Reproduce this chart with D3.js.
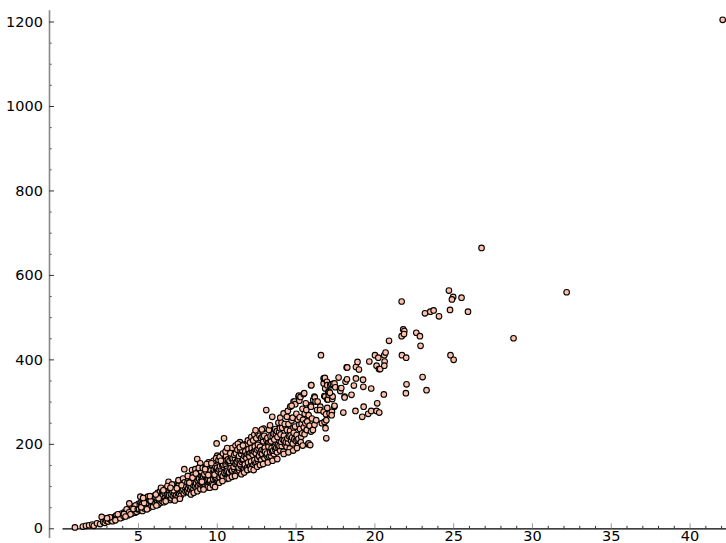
<!DOCTYPE html>
<html>
<head>
<meta charset="utf-8">
<script src="https://cdn.jsdelivr.net/npm/d3@7"></script>
<style>
  body { margin: 0; background: #fff; }
  svg { display: block; }
</style>
</head>
<body>
<div class="chart"></div>
<script>
// points, grouped by x range: [x, y]
var lowBand = [
  [1.0,2],[1.5,4],[1.7,6],[1.9,7],[2.1,9],[2.2,6],[2.4,12],[2.6,10],[2.7,27],[2.8,15],[2.9,13],[3.0,18],[3.1,16],[3.2,22],[3.3,19],
  [3.33,24],[3.41,20],[3.52,27],[3.47,22],[3.61,30],[3.68,25],[3.79,28],[3.83,33],[3.92,31],[4.02,26],[3.97,35],[3.38,17],[3.57,19],[3.88,24],[4.08,30],[4.13,38],[3.22,26],[3.72,33],[3.04,24],
  [4.18,33],[4.23,40],[4.31,36],[4.37,31],[4.42,44],[4.49,38],[4.53,48],[4.61,35],[4.57,42],[4.68,40],[4.73,52],[4.81,37],[4.77,46],[4.89,43],[4.93,55],[5.01,41],[4.97,49],[5.03,58],[4.28,45],[4.63,50],[4.84,54],[4.44,38],[4.11,34],[4.91,39],[4.52,33],[4.71,46],[4.99,45],[4.21,28],[4.45,59]
];

var band5to8 = [
  [5.07,46],[5.12,55],[5.18,61],[5.15,75],[5.23,44],[5.26,58],[5.31,67],[5.34,51],[5.37,63],[5.29,41],[5.43,55],[5.46,69],[5.41,47],[5.52,59],[5.55,65],[5.58,71],[5.49,50],[5.62,53],[5.66,62],[5.63,75],[5.71,57],[5.74,68],[5.69,48],[5.83,61],[5.79,71],[5.86,53],[5.91,64],[5.94,58],[5.88,73],[6.02,55],[6.05,67],[5.98,61],[6.08,78],[5.21,50],[5.39,60],[5.57,45],[5.81,65],[5.96,51],[5.33,72],[5.76,76],
  [6.11,59],[6.14,69],[6.09,74],[6.22,63],[6.19,72],[6.25,84],[6.28,56],[6.33,67],[6.36,79],[6.42,71],[6.39,87],[6.44,61],[6.51,65],[6.48,75],[6.55,82],[6.53,91],[6.62,69],[6.58,79],[6.64,62],[6.71,73],[6.68,84],[6.74,94],[6.79,67],[6.83,77],[6.81,88],[6.92,71],[6.88,81],[6.95,93],[7.02,75],[6.98,85],[6.94,110],[7.05,67],[6.17,54],[6.46,96],[6.61,90],[6.87,100],[6.31,71],[6.76,64],[6.97,79],[6.13,80],
  [7.12,71],[7.09,81],[7.14,91],[7.21,77],[7.18,87],[7.24,97],[7.33,73],[7.29,83],[7.36,93],[7.41,79],[7.44,89],[7.38,103],[7.52,74],[7.49,86],[7.56,97],[7.53,107],[7.61,81],[7.64,91],[7.58,101],[7.72,85],[7.68,95],[7.74,111],[7.71,77],[7.82,88],[7.79,99],[7.85,105],[7.91,83],[7.88,93],[7.94,140],[8.02,87],[7.98,97],[8.04,104],[8.01,113],[7.16,104],[7.34,66],[7.57,114],[7.66,70],[7.86,118],[7.26,90],[7.47,95],[7.96,109],[7.06,96],[7.77,102]
];

var band8to11 = [
  [8.12,89],[8.08,99],[8.14,109],[8.22,85],[8.19,95],[8.24,104],[8.21,117],[8.32,91],[8.28,101],[8.35,112],[8.31,123],[8.42,86],[8.39,97],[8.44,107],[8.43,138],[8.52,93],[8.48,104],[8.55,115],[8.51,127],[8.62,99],[8.58,110],[8.65,121],[8.64,140],[8.72,95],[8.69,107],[8.74,118],[8.76,164],[8.82,101],[8.79,113],[8.85,125],[8.81,133],[8.92,105],[8.88,117],[8.94,128],[8.95,154],[9.02,99],[8.98,111],[9.04,122],[9.01,135],[8.16,124],[8.36,80],[8.54,84],[8.77,88],[8.96,93],[8.46,120],[8.67,130],[8.26,108],[8.86,143],
  [9.12,99],[9.08,118],[9.14,122],[9.11,143],[9.22,101],[9.19,106],[9.24,125],[9.21,128],[9.32,109],[9.28,113],[9.35,133],[9.31,146],[9.42,97],[9.38,115],[9.44,120],[9.41,141],[9.52,111],[9.48,116],[9.55,137],[9.51,139],[9.47,156],[9.62,108],[9.58,114],[9.65,131],[9.61,137],[9.72,107],[9.68,125],[9.74,131],[9.71,149],[9.82,111],[9.78,116],[9.85,134],[9.81,139],[9.79,160],[9.92,117],[9.88,123],[9.94,141],[9.91,147],[10.02,115],[9.98,120],[10.04,137],[10.01,143],[9.99,201],[10.03,172],[9.16,92],[9.36,152],[9.56,96],[9.76,102],[9.96,166],[9.46,126],[9.66,154],[9.86,127],[9.26,140],[9.06,110],[9.89,98],
  [10.12,115],[10.08,135],[10.14,139],[10.11,162],[10.22,117],[10.18,121],[10.25,141],[10.21,147],[10.19,169],[10.32,124],[10.28,129],[10.35,149],[10.31,157],[10.42,121],[10.38,124],[10.44,145],[10.41,151],[10.39,177],[10.52,129],[10.48,132],[10.55,153],[10.51,159],[10.46,213],[10.62,117],[10.58,135],[10.65,141],[10.61,162],[10.59,171],[10.72,133],[10.68,136],[10.75,157],[10.71,163],[10.69,185],[10.82,129],[10.78,133],[10.85,155],[10.81,160],[10.92,137],[10.88,142],[10.95,165],[10.91,172],[11.02,133],[10.98,137],[11.04,159],[11.01,166],[10.97,190],[10.16,108],[10.36,112],[10.56,182],[10.76,118],[10.96,122],[10.26,160],[10.66,190],[10.86,178]
];

var band11to14 = [
  [11.12,139],[11.07,146],[11.15,166],[11.11,174],[11.23,131],[11.18,152],[11.26,153],[11.21,178],[11.19,196],[11.33,134],[11.28,158],[11.36,163],[11.31,186],[11.43,137],[11.39,144],[11.45,165],[11.41,171],[11.52,148],[11.48,152],[11.55,176],[11.51,184],[11.47,204],[11.63,132],[11.58,157],[11.65,161],[11.61,185],[11.72,142],[11.68,164],[11.75,171],[11.71,198],[11.82,146],[11.78,151],[11.85,173],[11.81,182],[11.92,144],[11.88,166],[11.95,176],[11.91,200],[12.03,150],[11.98,156],[12.05,177],[12.01,187],[11.97,208],[11.16,124],[11.34,200],[11.56,128],[11.74,132],[11.94,138],[11.46,192],[11.66,196],
  [12.12,147],[12.07,170],[12.15,179],[12.11,203],[12.23,151],[12.18,158],[12.26,181],[12.21,190],[12.19,216],[12.33,150],[12.28,174],[12.36,182],[12.31,208],[12.43,155],[12.39,162],[12.45,186],[12.41,194],[12.38,222],[12.52,156],[12.48,178],[12.55,186],[12.51,213],[12.63,159],[12.58,165],[12.65,189],[12.61,198],[12.59,226],[12.72,168],[12.68,172],[12.75,193],[12.71,219],[12.82,162],[12.78,179],[12.85,185],[12.81,214],[12.92,171],[12.88,176],[12.95,206],[12.91,217],[13.03,166],[12.98,184],[13.05,191],[13.01,219],[12.97,236],[12.16,140],[12.34,138],[12.56,146],[12.74,150],[12.94,152],[12.46,232],[12.86,234],
  [13.12,174],[13.07,181],[13.15,209],[13.14,280],[13.23,168],[13.18,177],[13.26,202],[13.21,214],[13.33,170],[13.28,194],[13.36,204],[13.31,233],[13.43,172],[13.39,180],[13.45,206],[13.41,218],[13.38,244],[13.52,182],[13.48,190],[13.55,217],[13.52,264],[13.63,176],[13.58,184],[13.65,210],[13.61,224],[13.72,186],[13.68,193],[13.75,224],[13.71,235],[13.82,180],[13.78,191],[13.85,216],[13.81,230],[13.92,190],[13.88,197],[13.95,228],[13.91,250],[14.02,184],[13.98,195],[14.05,222],[14.01,237],[13.24,156],[13.54,160],[13.84,164],[14.03,262]
];

var band14to17 = [
  [14.12,195],[14.07,205],[14.15,238],[14.11,250],[14.23,181],[14.18,210],[14.26,219],[14.24,272],[14.33,199],[14.28,208],[14.36,242],[14.31,247],[14.43,193],[14.38,204],[14.45,233],[14.45,264],[14.52,203],[14.48,213],[14.55,247],[14.51,278],[14.63,189],[14.58,218],[14.65,231],[14.66,288],[14.72,207],[14.68,220],[14.75,255],[14.82,201],[14.78,215],[14.81,262],[14.87,238],[14.87,300],[14.92,211],[14.88,226],[14.94,300],[14.98,294],[15.02,207],[14.97,241],[15.05,271],[14.25,176],[14.55,180],[14.85,184],[14.75,290],
  [15.12,209],[15.07,221],[15.14,257],[15.19,312],[15.21,314],[15.24,302],[15.18,212],[15.23,245],[15.26,263],[15.33,204],[15.28,235],[15.31,311],[15.36,217],[15.42,225],[15.38,247],[15.44,283],[15.52,239],[15.48,257],[15.51,318],[15.55,320],[15.57,223],[15.62,249],[15.58,271],[15.68,280],[15.71,233],[15.74,253],[15.79,199],[15.83,201],[15.83,268],[15.89,243],[15.93,197],[15.93,291],[15.98,229],[15.98,288],[16.04,260],[15.09,190],[15.45,196],[15.65,296],
  [16.1,233],[16.12,304],[16.19,312],[16.2,245],[16.22,310],[16.27,300],[16.31,256],[16.36,280],[16.4,300],[16.57,288],[16.55,280],[16.67,249],[16.78,276],[16.82,313],[16.84,252],[16.88,312],[16.9,237],[16.93,270],[16.95,256],[16.95,213],[17.01,305],[17.01,285],[17.06,305],[17.1,316],[17.16,272],[17.31,313],[17.31,276],[17.29,268],[17.33,306],[17.35,312],[17.46,288],[17.47,290]
];

var upperBand = [
  [15.98,339],[16.0,339],[16.61,410],[16.78,343],[16.78,355],[16.84,355],[16.86,356],[16.88,331],[16.99,347],[17.01,339],[17.08,323],[17.12,323],[17.18,321],[17.2,339],[17.27,341],[17.37,342],[17.47,343],[17.52,334],
  [17.73,357],[17.82,331],[17.84,325],[17.9,332],[18.03,274],[18.11,312],[18.11,310],[18.17,347],[18.24,381],[18.26,353],[18.28,381],[18.55,316],[18.7,338],[18.8,278],[18.83,355],[18.83,382],[18.93,394],[19.02,376],[19.23,264],[19.28,352],[19.3,335],[19.32,288],[19.61,271],[19.68,395],[19.8,331],[19.8,278],
  [20.04,410],[20.14,385],[20.14,278],[20.18,296],[20.25,404],[20.29,377],[20.31,274],[20.37,377],[20.6,317],[20.63,410],[20.65,395],[20.63,385],[20.71,416],[20.93,444]
];

var tailPoints = [
  [21.73,537],[21.73,455],[21.83,471],[21.9,467],[21.88,460],[22.66,463],[22.89,455],[22.93,432],[21.75,410],[22.02,404],[22.04,341],[22.0,320],[23.06,358],[23.31,327],
  [23.21,509],[23.55,513],[23.76,516],[24.1,502],[24.73,563],[25.0,548],[24.92,542],[25.53,546],[24.8,517],[25.94,513],[24.83,410],[25.03,399],
  [26.8,664],[28.83,450],[32.2,559],[42.1,1204]
];

var xMajorTicks = [5, 10, 15, 20, 25, 30, 35, 40];
var yMajorTicks = [0, 200, 400, 600, 800, 1000, 1200];

var points = lowBand.concat(band5to8, band8to11, band11to14, band14to17, upperBand, tailPoints);

var svgWidth = 726;
var svgHeight = 543;

var svg = d3.select(".chart")
  .append("svg")
  .attr("width", svgWidth)
  .attr("height", svgHeight);

// padded data range, like the original plot
var xScale = d3.scaleLinear()
  .domain([0.18, 42.92])
  .range([62, 735.6]);

var yScale = d3.scaleLinear()
  .domain([-22, 1228])
  .range([537.6, 9.7]);

var xMinor = d3.range(1, 43).filter(d => d % 5 !== 0);
var yMinor = d3.range(50, 1250, 50).filter(d => d % 200 !== 0);

function styleLabels(g) {
  g.attr("font-size", 14.5).attr("font-family", "DejaVu Sans, sans-serif");
  g.selectAll("text").attr("fill", "#000");
}

// y axis sits left of the data in grey
var yAxisG = svg.append("g")
  .attr("transform", "translate(49,0)");

yAxisG.append("g")
  .call(d3.axisLeft(yScale).tickValues(yMinor).tickSizeInner(-2.5).tickSizeOuter(0).tickFormat(""))
  .call(g => g.select(".domain").remove())
  .call(g => g.selectAll("line").attr("stroke", "#333"));

yAxisG.append("g")
  .call(d3.axisLeft(yScale).tickValues(yMajorTicks).tickSizeInner(-5).tickSizeOuter(0).tickPadding(6).tickFormat(d3.format("d")))
  .call(g => g.select(".domain").attr("stroke", "#888").attr("stroke-width", 1.6))
  .call(g => g.selectAll("line").attr("stroke", "#333"))
  .call(styleLabels);

// x axis through y = 0
var xAxisG = svg.append("g")
  .attr("transform", `translate(0,${yScale(0)})`);

xAxisG.append("g")
  .call(d3.axisBottom(xScale).tickValues(xMinor).tickSizeInner(-2.5).tickSizeOuter(0).tickFormat(""))
  .call(g => g.select(".domain").remove())
  .call(g => g.selectAll("line").attr("stroke", "#333"));

xAxisG.append("g")
  .call(d3.axisBottom(xScale).tickValues(xMajorTicks).tickSizeInner(-5).tickSizeOuter(0).tickPadding(2).tickFormat(d3.format("d")))
  .call(g => g.select(".domain").attr("stroke", "#000").attr("stroke-width", 1.3))
  .call(g => g.selectAll("line").attr("stroke", "#999"))
  .call(styleLabels);

// scatter points
svg.append("g")
  .selectAll("circle")
  .data(points)
  .enter()
  .append("circle")
  .attr("cx", d => xScale(d[0]))
  .attr("cy", d => yScale(d[1]))
  .attr("r", 2.8)
  .attr("fill", "#ffc0a9")
  .attr("stroke", "#000")
  .attr("stroke-width", 1.1);
</script>
</body>
</html>
